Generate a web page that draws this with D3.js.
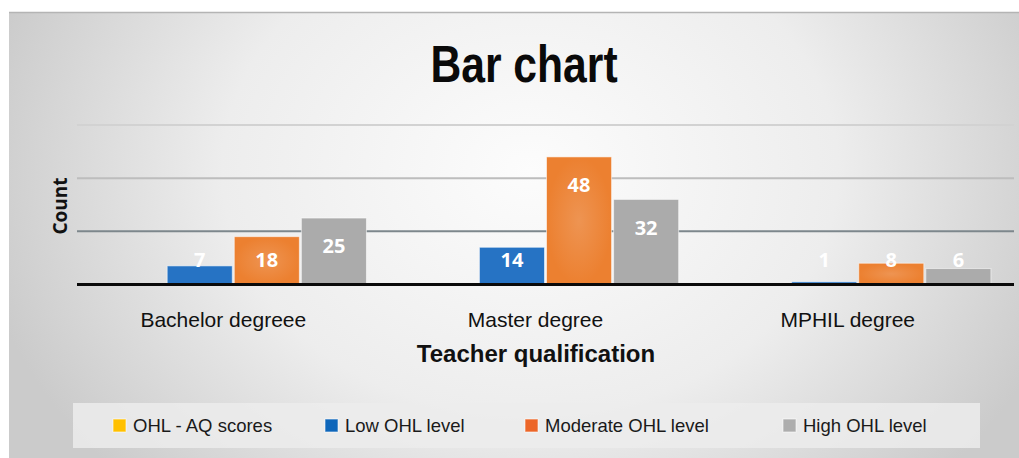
<!DOCTYPE html>
<html>
<head>
<meta charset="utf-8">
<script src="https://cdn.jsdelivr.net/npm/d3@7"></script>
<style>
  body { margin: 0; background: #fff; }
  svg { display: block; }
</style>
</head>
<body>
<svg class="chart" width="1019" height="458"></svg>
<script>
// chart values
var categories = ["Bachelor degreee", "Master degree", "MPHIL degree"];
var seriesNames = ["OHL - AQ scores", "Low OHL level", "Moderate OHL level", "High OHL level"];
var aqScores = [null, null, null];
var lowLevel = [7, 14, 1];
var moderateLevel = [18, 48, 8];
var highLevel = [25, 32, 6];
var yTicks = [20, 40, 60];

var seriesValues = [aqScores, lowLevel, moderateLevel, highLevel];

var svg = d3.select("svg.chart"),
    margin = {top: 125, right: 5, bottom: 173, left: 77},
    width = +svg.attr("width"),
    height = +svg.attr("height");

var barColors = ["#FFC000", "#2673C4", "url(#orangeFill)", "#ABABAB"];
var legendColors = ["#FFC000", "#0E66BA", "#EC6628", "#ADADAD"];

var defs = svg.append("defs");

// background: light in the middle, grey at the edges
var bg = defs.append("radialGradient")
    .attr("id", "bgGrad")
    .attr("gradientUnits", "userSpaceOnUse")
    .attr("cx", 530).attr("cy", 170).attr("r", 560)
    .attr("gradientTransform", "translate(530,170) scale(1,0.8) translate(-530,-170)");
bg.append("stop").attr("offset", "0").attr("stop-color", "#fcfcfc");
bg.append("stop").attr("offset", "0.55").attr("stop-color", "#ededed");
bg.append("stop").attr("offset", "1").attr("stop-color", "#cbcbcb");

var og = defs.append("radialGradient").attr("id", "orangeFill");
og.append("stop").attr("offset", "0").attr("stop-color", "#EE9452");
og.append("stop").attr("offset", "1").attr("stop-color", "#EC8030");

svg.append("rect")
    .attr("x", 9).attr("y", 12)
    .attr("width", width - 9).attr("height", height - 12)
    .attr("fill", "url(#bgGrad)");
svg.append("line")
    .attr("x1", 9).attr("x2", width)
    .attr("y1", 12.5).attr("y2", 12.5)
    .style("stroke", "#b4b4b4")
    .style("stroke-width", 1.5);

var x0 = d3.scaleBand()
    .domain(categories)
    .range([margin.left, width - margin.right])
    .paddingInner(0.147)
    .paddingOuter(0.074);

var x1 = d3.scaleBand()
    .domain(seriesNames)
    .range([0, x0.bandwidth()])
    .paddingInner(0.03);

var y = d3.scaleLinear()
    .domain([0, 60])
    .range([height - margin.bottom - 0.5, margin.top]);

// title
svg.append("text")
    .attr("transform", "translate(524,82) scale(0.82,1)")
    .attr("text-anchor", "middle")
    .style("font", "bold 52px 'Liberation Sans', Arial, sans-serif")
    .style("fill", "#0a0a0a")
    .text("Bar chart");

// gridlines
var gridColors = {20: "#7d878c", 40: "#bdbdbd", 60: "#d2d2d2"};
svg.append("g")
    .selectAll("line")
    .data(yTicks)
    .enter().append("line")
    .attr("x1", margin.left)
    .attr("x2", width - margin.right)
    .attr("y1", function(d) { return y(d); })
    .attr("y2", function(d) { return y(d); })
    .style("stroke", function(d) { return gridColors[d]; })
    .style("stroke-width", 2);

// bars
var rows = categories.map(function(c, i) {
  return {
    category: c,
    values: seriesNames.map(function(s, j) {
      return {series: s, idx: j, value: seriesValues[j][i]};
    }).filter(function(d) { return d.value != null; })
  };
});

var group = svg.selectAll(".group")
    .data(rows)
    .enter().append("g")
    .attr("class", "group")
    .attr("transform", function(d) { return "translate(" + x0(d.category) + ",0)"; });

group.selectAll("rect")
    .data(function(d) { return d.values; })
    .enter().append("rect")
    .attr("x", function(d) { return x1(d.series); })
    .attr("y", function(d) { return y(d.value); })
    .attr("width", x1.bandwidth())
    .attr("height", function(d) { return y(0) - y(d.value); })
    .attr("fill", function(d) { return barColors[d.idx]; })
    .style("stroke", "rgba(255,255,255,0.55)")
    .style("stroke-width", 1);

group.selectAll(".val")
    .data(function(d) { return d.values; })
    .enter().append("text")
    .attr("class", "val")
    .attr("x", function(d) { return x1(d.series) + x1.bandwidth() / 2; })
    .attr("y", function(d) { return Math.min(y(d.value) + 28, 260); })
    .attr("dy", "0.36em")
    .attr("text-anchor", "middle")
    .style("font", "bold 20px 'Open Sans', sans-serif")
    .style("fill", "#fff")
    .text(function(d) { return d.value; });

// baseline
svg.append("line")
    .attr("x1", margin.left)
    .attr("x2", width - margin.right)
    .attr("y1", y(0))
    .attr("y2", y(0))
    .style("stroke", "#0a0a0a")
    .style("stroke-width", 3);

// category axis
var xAxis = svg.append("g")
    .attr("transform", "translate(0," + y(0) + ")")
    .call(d3.axisBottom(x0).tickSize(0).tickPadding(0));
xAxis.select(".domain").remove();
xAxis.selectAll("text")
    .attr("y", 42)
    .attr("dy", 0)
    .attr("dx", -10)
    .style("font", "21px 'Liberation Sans', Arial, sans-serif")
    .style("fill", "#111");

// axis titles
svg.append("text")
    .attr("x", 536)
    .attr("y", 362)
    .attr("text-anchor", "middle")
    .style("font", "bold 24px 'Liberation Sans', Arial, sans-serif")
    .style("fill", "#111")
    .text("Teacher qualification");

svg.append("text")
    .attr("transform", "translate(67,206) rotate(-90)")
    .attr("text-anchor", "middle")
    .style("font", "bold 19px 'Open Sans', sans-serif")
    .style("fill", "#111")
    .text("Count");

// legend
svg.append("rect")
    .attr("x", 73).attr("y", 403)
    .attr("width", 907).attr("height", 45)
    .attr("fill", "#ececec")
    .attr("opacity", 0.85);

var legendX = [113, 325, 525, 783];
var legend = svg.selectAll(".legend")
    .data(seriesNames)
    .enter().append("g")
    .attr("class", "legend")
    .attr("transform", function(d, i) { return "translate(" + legendX[i] + ",419)"; });

legend.append("rect")
    .attr("width", 13)
    .attr("height", 13)
    .style("fill", function(d, i) { return legendColors[i]; })
    .style("stroke", "rgba(255,255,255,0.6)")
    .style("stroke-width", 1);

legend.append("text")
    .attr("x", 20)
    .attr("y", 13)
    .style("font", "18.5px 'Liberation Sans', Arial, sans-serif")
    .style("fill", "#1a1a1a")
    .text(function(d) { return d; });
</script>
</body>
</html>
